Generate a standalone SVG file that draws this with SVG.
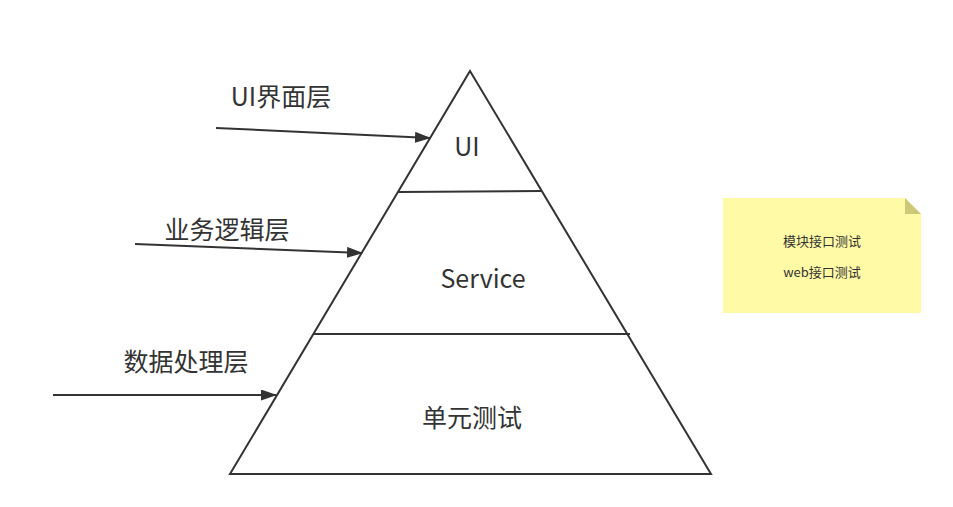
<svg xmlns="http://www.w3.org/2000/svg" width="953" height="507" viewBox="0 0 953 507">
<style>
.ln{stroke:#333;stroke-width:2;fill:none}
.t{font-family:"Noto Sans CJK SC","Noto Sans",sans-serif;fill:#333;text-anchor:middle;dominant-baseline:central}
.big{font-size:25px}
.sm{font-size:13px}
</style>
<defs>
<marker id="ah" markerWidth="16" markerHeight="11" refX="15" refY="5.5" orient="auto" markerUnits="userSpaceOnUse">
<path d="M0,0 L16,5.5 L0,11 Z" fill="#333"/>
</marker>
</defs>
<rect width="953" height="507" fill="#fff"/>
<g id="pyramid">
<path class="ln" d="M470,71 L711,474 L230,474 Z"/>
<line class="ln" x1="398" y1="192" x2="541" y2="191"/>
<line class="ln" x1="314" y1="334" x2="630" y2="334"/>
<text class="t big" x="467" y="145">UI</text>
<text class="t big" x="483" y="277">Service</text>
<text class="t big" x="472" y="416">单元测试</text>
</g>
<g id="labels">
<text class="t big" x="281" y="95">UI界面层</text>
<text class="t big" x="227" y="228">业务逻辑层</text>
<text class="t big" x="186" y="360">数据处理层</text>
</g>
<g id="note">
<path d="M723,198 L905,198 L921,214 L921,313 L723,313 Z" fill="#fffaa6"/>
<path d="M905,198 L921,214 L905,214 Z" fill="#cdc878"/>
<text class="t sm" x="822" y="240">模块接口测试</text>
<text class="t sm" x="822" y="271">web接口测试</text>
</g>
<g id="connectors">
<line class="ln" x1="216" y1="128" x2="430" y2="138" marker-end="url(#ah)"/>
<line class="ln" x1="135" y1="244" x2="362" y2="253" marker-end="url(#ah)"/>
<line class="ln" x1="53" y1="395" x2="276" y2="395" marker-end="url(#ah)"/>
</g>
</svg>
